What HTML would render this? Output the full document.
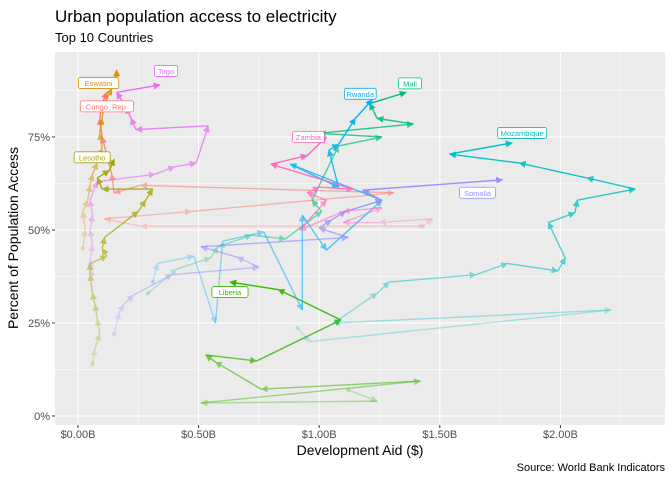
<!DOCTYPE html>
<html><head><meta charset="utf-8"><style>
body{margin:0;background:#fff;font-family:"Liberation Sans",sans-serif}
svg text{font-family:"Liberation Sans",sans-serif}
</style></head><body>
<svg id="chart" width="672" height="480" viewBox="0 0 672 480" xmlns="http://www.w3.org/2000/svg">
<text x="55" y="22" font-size="17" fill="#000">Urban population access to electricity</text>
<text x="55" y="42" font-size="13" fill="#000">Top 10 Countries</text>
<rect x="55" y="52" width="610" height="373" fill="#EBEBEB"/>
<g id="grid"></g><g id="series"></g><g id="labels"></g><g id="axes"></g>
<text x="360" y="455" font-size="14" text-anchor="middle">Development Aid ($)</text>
<text transform="translate(18,238) rotate(-90)" font-size="14" text-anchor="middle">Percent of Population Access</text>
<text x="665" y="471" font-size="11" text-anchor="end">Source: World Bank Indicators</text>
</svg>
<script>
const countries=["Congo, Rep.","Eswatini","Lesotho","Liberia","Mali","Mozambique","Rwanda","Somalia","Togo","Zambia"];
const colors=["#F8766D","#D89000","#A3A500","#39B600","#00BF7D","#00BFC4","#00B0F6","#9590FF","#E76BF3","#FF62BC"];
const aidCongo=[1.42,0.26,0.11,0.47,1.31,0.26,0.15,0.14,0.12,0.10,0.09,0.10,0.12];
const pctCongo=[51,51,53,55,60,62,60,65,70,75,80,84,87];
const aidEswatini=[0.02,0.03,0.02,0.04,0.05,0.06,0.08,0.10,0.09,0.10,0.11,0.14,0.16,0.16];
const pctEswatini=[45,50,55,58,62,65,68,72,76,80,84,88,91,93];
const aidLesotho=[0.06,0.07,0.09,0.08,0.07,0.06,0.05,0.05,0.12,0.10,0.11,0.25,0.28,0.31,0.10,0.08,0.13,0.15];
const pctLesotho=[14,18,22,26,30,33,38,41,43,45,48,55,58,61,61,64,66,69];
const aidLiberia=[1.12,1.24,0.51,1.42,0.76,0.57,0.53,0.74,1.09,0.83,0.63];
const pctLiberia=[7,4,3.5,9.4,7.2,14.5,16.4,14.8,25.8,34,36];
const aidMali=[0.29,0.41,0.55,0.58,0.72,0.86,1.01,0.97,1.08,1.26,1.0,1.39,1.24,1.21,1.36];
const pctMali=[33,39.5,42.5,45.5,48.6,47.6,55,58,72.6,75,76,78.5,80,84,87];
const aidMozambique=[0.91,0.96,2.21,1.06,1.24,1.29,1.65,1.78,1.99,2.02,1.95,2.06,2.07,2.31,2.11,1.83,1.54,1.80];
const pctMozambique=[23.7,20,28.5,25,33,36,38,41,39,42.5,52,54.6,58,61,64,68,70.4,73.4];
const aidRwanda=[0.31,0.33,0.48,0.57,0.60,0.77,0.93,0.93,1.03,1.26,0.88,1.08,1.04,1.08,1.15,1.22];
const pctRwanda=[36,41,43,25,47,49.5,28.5,54,44.6,58,67.7,61.5,71.5,73,80,85];
const aidSomalia=[0.15,0.17,0.19,0.23,0.39,0.75,0.66,0.51,1.12,1.0,1.05,1.11,1.26,1.18,1.76];
const pctSomalia=[22,27.7,30,32.5,38,40,42.7,45.5,48,50.5,52.7,55,58,60.7,63.5];
const aidTogo=[0.06,0.05,0.06,0.05,0.06,0.05,0.08,0.32,0.40,0.49,0.54,0.24,0.22,0.20,0.16,0.34];
const pctTogo=[38,42,46,50,54,58,63,65,67,68,78,77,80,83,87,89];
const aidZambia=[1.43,1.47,1.25,1.10,1.26,1.10,0.92,1.03,0.95,1.0,1.14,0.80,0.95,1.03];
const pctZambia=[51,53,52,52,56,55,50,58,60,61.5,61,67.7,70,75];
const aidAll=[aidCongo,aidEswatini,aidLesotho,aidLiberia,aidMali,aidMozambique,aidRwanda,aidSomalia,aidTogo,aidZambia];
const pctAll=[pctCongo,pctEswatini,pctLesotho,pctLiberia,pctMali,pctMozambique,pctRwanda,pctSomalia,pctTogo,pctZambia];
const xTicks=[0,0.5,1,1.5,2];
const xTickLabels=["$0.00B","$0.50B","$1.00B","$1.50B","$2.00B"];
const yTicks=[0,25,50,75];
const yTickLabels=["0%","25%","50%","75%"];
const labelDx=[0,-18,-22,0,4,10,-12,-25,6,-18];
const labelDy=[14,13,-2,10,-9,-10,-6,13,-14,0];

const NS="http://www.w3.org/2000/svg";
const sx=v=>78+v*241.2;
const sy=v=>416-v*3.72;
function mk(tag,attrs,parent){const e=document.createElementNS(NS,tag);for(const k in attrs)e.setAttribute(k,attrs[k]);parent.appendChild(e);return e;}
const svg=document.getElementById('chart');
const grid=document.getElementById('grid');
for(let v=-0.25;v<=2.5;v+=0.25){const x=sx(v);if(x<55||x>665)continue;const major=Math.abs(v*2-Math.round(v*2))<1e-6;
const l=mk('line',{x1:x,x2:x,y1:52,y2:425,stroke:'#fff','stroke-width':major?1.1:0.5},grid);

}
for(let v=-12.5;v<=100;v+=12.5){const y=sy(v);if(y<52||y>425)continue;const major=v%25===0;
const l=mk('line',{x1:55,x2:665,y1:y,y2:y,stroke:'#fff','stroke-width':major?1.1:0.5},grid);

}
const axes=document.getElementById('axes');
xTicks.forEach((v,i)=>{const x=sx(v);
const t=mk('line',{x1:x,x2:x,y1:425,y2:428,stroke:'#333'},axes);


const tx=mk('text',{x:x,y:438,'font-size':11,'text-anchor':'middle',fill:'#4D4D4D'},axes);tx.textContent=xTickLabels[i];

});
yTicks.forEach((v,i)=>{const y=sy(v);
const t=mk('line',{x1:52,x2:55,y1:y,y2:y,stroke:'#333'},axes);


const tx=mk('text',{x:50,y:y+4,'font-size':11,'text-anchor':'end',fill:'#4D4D4D'},axes);tx.textContent=yTickLabels[i];

});
const defs=mk('defs',{},svg);
colors.forEach((c,i)=>{const m=mk('marker',{id:'ar'+i,viewBox:'0 0 10 10',refX:9,refY:5,markerWidth:5,markerHeight:5,orient:'auto'},defs);
mk('path',{d:'M0,0 L10,5 L0,10 z',fill:c},m);});
const series=document.getElementById('series');
const labels=document.getElementById('labels');
countries.forEach((name,ci)=>{const a=aidAll[ci],p=pctAll[ci],n=a.length;
const g=mk('g',{},series);


const c0=mk('circle',{cx:sx(a[0]),cy:sy(p[0]),r:2,fill:colors[ci],opacity:0.25},g);


for(let i=1;i<n;i++){const op=0.2+0.8*i/(n-1);
const l=mk('line',{x1:sx(a[i-1]),y1:sy(p[i-1]),x2:sx(a[i]),y2:sy(p[i]),stroke:colors[ci],'stroke-width':1.4,opacity:op,'marker-end':'url(#ar'+ci+')'},g);

}
const lx=sx(a[n-1])+labelDx[ci],ly=sy(p[n-1])+labelDy[ci];
const lg=mk('g',{},labels);


const w=name.length*4.3+6;
mk('rect',{x:lx-w/2,y:ly-5.5,width:w,height:11,rx:2,fill:'#fff',stroke:colors[ci],'stroke-width':0.8},lg);
const t=mk('text',{x:lx,y:ly+3,'font-size':7.5,'text-anchor':'middle',fill:colors[ci]},lg);t.textContent=name;});
</script>
</body></html>
